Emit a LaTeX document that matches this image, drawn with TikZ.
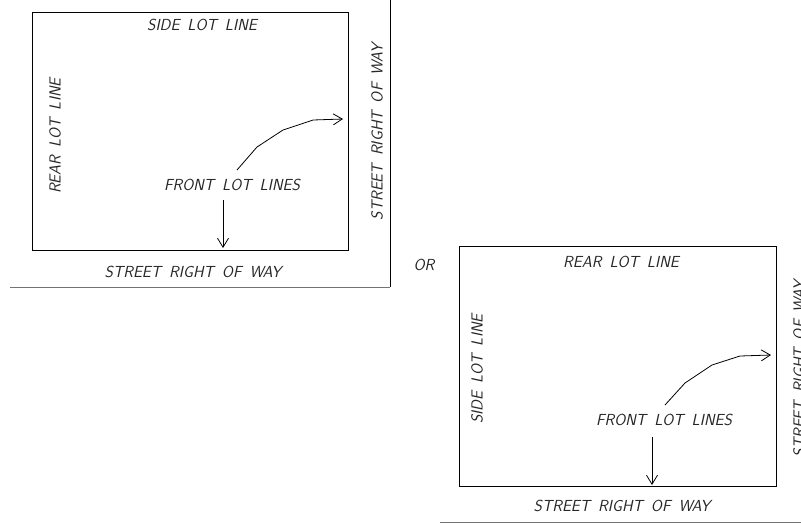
\documentclass[tikz,border=0pt]{standalone}
\usetikzlibrary{arrows.meta}
\begin{document}
\begin{tikzpicture}[x=1pt,y=-1pt,
  lbl/.style={font=\sffamily\itshape\fontsize{16}{16}\selectfont, inner sep=0pt, text=black!85},
  lotbox/.style={draw=black, line width=1pt},
  rowline/.style={draw=black!55, line width=0.9pt},
  colline/.style={draw=black, line width=1pt},
  ptr/.style={draw=black, line width=0.8pt, -{Straight Barb[length=9pt,width=11pt,line width=0.8pt]}}
]
\useasboundingbox (0,0) rectangle (801,523);
\clip (0,0) rectangle (801,523);
\newcommand{\ws}{\hspace{0.5em}}
% ---------- left lot ----------
\draw[lotbox] (32,12) rectangle (348,250);
\draw[colline] (390,0) -- (390,287);
\draw[rowline] (10,287) -- (390,287);
\node[lbl] (sideA) at (202,25) {SIDE\ws LOT\ws LINE};
\node[lbl, rotate=90] (rearA) at (55,136) {REAR\ws LOT\ws LINE};
\node[lbl] (frontA) at (232,185) {FRONT\ws LOT\ws LINES};
\node[lbl] (streetA) at (193,272) {STREET\ws RIGHT\ws OF\ws WAY};
\node[lbl, rotate=90] (streetAv) at (377,132) {STREET\ws RIGHT\ws OF\ws WAY};
\coordinate (a1) at (223,200);
\coordinate (a2) at (223,248);
\coordinate (c1) at (237,170);
\coordinate (c2) at (257,147);
\coordinate (c3) at (283,130);
\coordinate (c4) at (313,120);
\coordinate (c5) at (343,119);
\draw[ptr] (a1) -- (a2);
\draw[ptr] (c1) -- (c2) -- (c3) -- (c4) -- (c5);
% ---------- OR ----------
\node[lbl] (orlbl) at (424,265) {OR};
% ---------- right lot ----------
\draw[lotbox] (459,246) rectangle (776,486);
\draw[rowline] (440,522) -- (801,522);
\node[lbl] (rearB) at (621,262) {REAR\ws LOT\ws LINE};
\node[lbl, rotate=90] (sideB) at (477,369) {SIDE\ws LOT\ws LINE};
\node[lbl] (frontB) at (664,420) {FRONT\ws LOT\ws LINES};
\node[lbl] (streetB) at (622,506) {STREET\ws RIGHT\ws OF\ws WAY};
\node[lbl, rotate=90] (streetBv) at (799,369) {STREET\ws RIGHT\ws OF\ws WAY};
\coordinate (b1) at (652,437);
\coordinate (b2) at (652,485);
\coordinate (d1) at (665,405);
\coordinate (d2) at (685,383);
\coordinate (d3) at (712,365);
\coordinate (d4) at (740,356);
\coordinate (d5) at (771,355);
\draw[ptr] (b1) -- (b2);
\draw[ptr] (d1) -- (d2) -- (d3) -- (d4) -- (d5);
\end{tikzpicture}
\end{document}
